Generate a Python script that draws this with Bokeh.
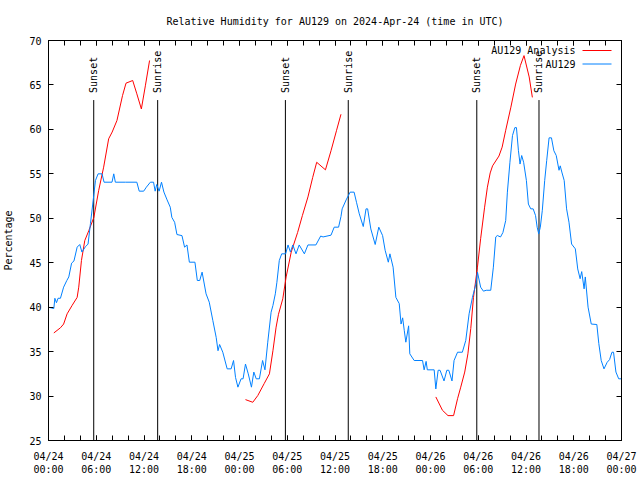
import math
import pandas as pd
from bokeh.plotting import figure
from bokeh.models import Range1d, FixedTicker, LinearAxis, Label, Arrow
from bokeh.core.properties import value
from bokeh.embed import file_html
from bokeh.resources import INLINE

# ---------------- data ----------------
start_time = "2024-04-24 00:00"

# AU129 observations: hours since start, relative humidity (%)
obs_hours = [0.0, 0.4, 0.67, 0.8, 1.0, 1.2, 1.5, 1.9, 2.3, 2.55, 2.9, 3.2, 3.6, 3.93, 4.2, 4.64, 4.97,
             5.27, 5.56, 5.9, 6.23, 6.73, 6.98, 7.98, 8.2, 8.4, 9.66, 11.1, 11.4, 11.96, 12.3, 12.8,
             13.2, 13.4, 13.6, 13.9, 14.2, 14.5, 14.9, 15.3, 15.5, 15.85, 16.14, 16.77, 17.1, 17.4,
             17.7, 18.4, 18.7, 19.0, 19.3, 19.8, 20.2, 20.65, 21.07, 21.3, 21.5, 21.9, 22.45, 22.95,
             23.25, 23.5, 23.8, 24.2, 24.45, 24.75, 25.1, 25.5, 25.8, 26.1, 26.5, 26.9, 27.2, 27.55,
             27.97, 28.2, 28.5, 28.7, 29.0, 29.3, 29.8, 30.1, 30.4, 30.7, 31.1, 31.5, 32.15, 32.6,
             33.6, 34.2, 34.5, 35.5, 35.9, 36.45, 36.75, 36.9, 37.4, 37.9, 38.4, 38.7, 39.05, 39.55,
             39.9, 40.1, 40.5, 41.05, 41.5, 41.98, 42.3, 42.7, 42.9, 43.3, 43.65, 44.07, 44.3, 44.5,
             44.7, 44.9, 45.25, 45.4, 45.95, 47.0, 47.2, 47.45, 47.6, 48.46, 48.67, 48.96, 49.2,
             49.7, 50.05, 50.3, 50.7, 50.96, 51.4, 52.0, 52.43, 52.85, 53.27, 53.7, 53.9, 54.3,
             54.65, 55.0, 55.57, 55.9, 56.2, 56.4, 56.8, 57.1, 57.45, 57.66, 57.98, 58.3, 58.6,
             58.8, 59.05, 59.25, 59.46, 59.7, 60.05, 60.3, 60.6, 60.9, 61.2, 61.4, 61.6, 61.8,
             62.05, 62.35, 62.6, 62.9, 63.2, 63.5, 63.8, 64.15, 64.3, 64.5, 64.8, 65.1, 65.4,
             65.73, 66.2, 66.5, 66.8, 67.0, 67.3, 67.45, 67.8, 68.2, 68.9, 69.15, 69.45, 69.8,
             70.2, 70.5, 70.8, 71.0, 71.3, 71.65, 72.0]
obs_rh = [40.0, 39.9, 39.85, 41.0, 40.5, 41.0, 41.0, 42.25, 43.0, 43.4, 44.95, 45.2, 46.75, 47.05, 46.2,
          46.8, 47.1, 49.4, 51.6, 54.25, 55.0, 55.0, 54.06, 54.06, 55.0, 54.06, 54.06, 54.06, 53.05,
          53.05, 53.5, 54.06, 54.06, 53.05, 53.8, 53.05, 54.06, 52.95, 52.07, 51.25, 50.1, 49.55,
          48.17, 48.05, 46.75, 47.0, 45.06, 45.06, 43.0, 43.0, 43.94, 41.5, 40.56, 38.5, 36.6, 35.1,
          35.8, 34.93, 33.06, 33.06, 34.0, 32.1, 31.0, 31.94, 31.94, 33.6, 32.5, 31.0, 32.7, 31.94,
          31.94, 34.0, 32.95, 36.06, 39.43, 40.19, 41.5, 42.8, 45.25, 46.0, 46.0, 47.0, 46.2, 47.0,
          46.0, 47.0, 46.0, 47.0, 47.0, 48.0, 47.9, 48.1, 49.0, 49.0, 50.2, 51.06, 52.07, 52.94,
          52.94, 51.8, 50.5, 49.07, 51.06, 51.06, 48.8, 47.05, 49.0, 48.06, 46.4, 45.06, 46.0, 44.5,
          41.1, 40.4, 38.1, 38.8, 37.4, 36.06, 37.9, 34.75, 34.0, 34.0, 32.95, 33.9, 32.95, 32.95,
          30.8, 32.9, 32.9, 31.7, 32.9, 32.9, 31.7, 34.0, 34.93, 34.93, 36.25, 39.25, 41.1, 42.6,
          43.94, 42.25, 41.8, 41.9, 41.9, 44.5, 47.9, 48.06, 47.9, 48.4, 49.75, 52.94, 56.3, 59.3,
          60.2, 60.2, 57.6, 56.1, 57.06, 56.3, 54.25, 51.6, 51.06, 51.06, 50.3, 49.0, 48.25, 49.0,
          50.9, 54.25, 56.5, 59.05, 59.05, 57.6, 57.06, 55.4, 55.9, 55.2, 54.25, 51.06, 49.56,
          47.1, 46.56, 44.3, 43.2, 44.0, 42.06, 43.4, 40.0, 38.1, 38.05, 35.9, 34.0, 33.06, 33.8,
          34.1, 34.93, 34.93, 32.7, 31.94, 31.94]

# AU129 Analysis: hours since start, relative humidity (%); NaN separates the three runs
nan = float("nan")
ana_hours = [0.67, 1.5, 1.9, 2.34, 2.97, 3.6, 3.8, 4.14, 4.56, 5.06, 5.7, 6.3, 6.93, 7.56, 8.0, 8.6,
             9.3, 9.74, 10.58, 11.1, 11.67, 12.17, 12.7, nan,
             24.75, 25.67, 26.3, 27.1, 27.76, 28.2, 28.6, 28.9, 29.44, 29.86, 30.5, 31.3, 31.9,
             32.6, 33.2, 33.7, 34.8, 35.5, 36.2, 36.75, nan,
             48.67, 49.5, 50.2, 50.9, 51.4, 51.8, 52.3, 52.7, 53.06, 53.4, 53.9, 54.3, 54.8,
             55.15, 55.5, 55.8, 56.6, 57.0, 57.45, 58.1, 58.7, 59.3, 59.75, 60.4, 60.8]
ana_rh = [37.1, 37.68, 38.1, 39.25, 40.2, 41.1, 42.25, 45.25, 47.5, 48.6, 50.1, 53.1, 55.75, 58.94,
          59.7, 61.0, 63.8, 65.2, 65.5, 64.0, 62.3, 64.9, 67.75, nan,
          29.6, 29.3, 30.06, 31.4, 32.5, 35.1, 37.75, 39.2, 40.94, 43.4, 46.2, 48.4, 50.3, 52.4,
          54.6, 56.3, 55.45, 57.6, 59.9, 61.7, nan,
          29.9, 28.4, 27.8, 27.8, 29.7, 31.0, 32.7, 34.75, 37.6, 41.1, 44.5, 47.7, 51.25, 53.5,
          55.1, 55.9, 57.0, 58.0, 59.9, 62.5, 65.1, 67.2, 68.3, 65.9, 63.6]

sunset_times = ["2024-04-24 05:41", "2024-04-25 05:46", "2024-04-26 05:49"]
sunrise_times = ["2024-04-24 13:43", "2024-04-25 13:40", "2024-04-26 13:38"]

x_tick_hours = [0, 6, 12, 18, 24, 30, 36, 42, 48, 54, 60, 66, 72]
x_tick_labels = ["04/24\n00:00", "04/24\n06:00", "04/24\n12:00", "04/24\n18:00",
                 "04/25\n00:00", "04/25\n06:00", "04/25\n12:00", "04/25\n18:00",
                 "04/26\n00:00", "04/26\n06:00", "04/26\n12:00", "04/26\n18:00",
                 "04/27\n00:00"]
x_minor_hours = list(range(0, 73, 2))
y_ticks = [25, 30, 35, 40, 45, 50, 55, 60, 65, 70]

title_text = "Relative Humidity for AU129 on 2024-Apr-24 (time in UTC)"
y_label = "Percentage"
series_names = ["AU129 Analysis", "AU129"]
series_colors = ["#ff0000", "#0080ff"]

# ---------------- helpers ----------------
FONT = "DejaVu Sans Mono"
FS = "10px"
HOUR_MS = 3600 * 1000
start_ms = int(pd.Timestamp(start_time).value // 10**6)


def hours_to_ms(h):
    return [start_ms + v * HOUR_MS if not math.isnan(v) else nan for v in h]


def times_to_ms(ts):
    return [int(pd.Timestamp(t).value // 10**6) for t in ts]


obs_x = hours_to_ms(obs_hours)
ana_x = hours_to_ms(ana_hours)
sunset_x = times_to_ms(sunset_times)
sunrise_x = times_to_ms(sunrise_times)
tick_ms = [start_ms + h * HOUR_MS for h in x_tick_hours]
minor_ms = [start_ms + h * HOUR_MS for h in x_minor_hours]

y_lo, y_hi = y_ticks[0], y_ticks[-1]
sun_line_top = 63.3
sun_label_y = 64.1

p = figure(width=640, height=480, x_axis_type="datetime",
           x_range=Range1d(start_ms, tick_ms[-1]), y_range=Range1d(y_lo, y_hi),
           output_backend="svg", toolbar_location=None,
           min_border_left=47, min_border_right=19, min_border_top=40, min_border_bottom=40)
p.background_fill_color = "white"
p.border_fill_color = "white"
p.outline_line_color = "black"
p.xgrid.visible = False
p.ygrid.visible = False

p.title.text = title_text
p.title.text_font = FONT
p.title.text_font_size = FS
p.title.text_font_style = "normal"
p.title.text_color = "black"
p.title.align = "center"
p.title.standoff = 27


def style_axis(ax, labels=True):
    ax.axis_line_color = "black"
    ax.major_tick_line_color = "black"
    ax.minor_tick_line_color = "black"
    ax.major_tick_in = 5
    ax.major_tick_out = 0
    ax.minor_tick_in = 5
    ax.minor_tick_out = 0
    ax.major_label_text_font = FONT
    ax.major_label_text_color = "black"
    if labels:
        ax.major_label_text_font_size = FS
    else:
        ax.major_label_text_font_size = "1px"
        ax.major_label_text_color = None
        ax.major_label_standoff = 0


xax = p.xaxis[0]
xax.ticker = FixedTicker(ticks=tick_ms, minor_ticks=minor_ms)
xax.major_label_overrides = {int(t): lab for t, lab in zip(tick_ms, x_tick_labels)}
style_axis(xax)
xax.major_label_standoff = 10

yax = p.yaxis[0]
yax.ticker = FixedTicker(ticks=y_ticks)
style_axis(yax)
yax.major_label_standoff = 7
yax.axis_label = y_label
yax.axis_label_text_font = FONT
yax.axis_label_text_font_size = FS
yax.axis_label_text_font_style = "normal"
yax.axis_label_text_color = "black"
yax.axis_label_standoff = 12

top = LinearAxis(ticker=FixedTicker(ticks=tick_ms, minor_ticks=minor_ms))
style_axis(top, labels=False)
p.add_layout(top, "above")
right = LinearAxis(ticker=FixedTicker(ticks=y_ticks))
style_axis(right, labels=False)
p.add_layout(right, "right")

# sunset / sunrise markers
sun_x = sunset_x + sunrise_x
sun_txt = ["Sunset"] * len(sunset_x) + ["Sunrise"] * len(sunrise_x)
p.segment(x0=sun_x, x1=sun_x, y0=[y_lo] * len(sun_x), y1=[sun_line_top] * len(sun_x),
          line_color="black", line_width=1)
p.text(x=sun_x, y=[sun_label_y] * len(sun_x), text=sun_txt, angle=math.pi / 2,
       text_align="left", text_baseline="middle", text_font=value(FONT),
       text_font_size=FS, text_color="black")

# series
p.line(ana_x, ana_rh, line_color=series_colors[0], line_width=1)
p.line(obs_x, obs_rh, line_color=series_colors[1], line_width=1)

# key (text then sample line, top right)
for i, (name, col) in enumerate(zip(series_names, series_colors)):
    sy = 390.0 - i * 13.5
    p.add_layout(Label(x=527, y=sy, x_units="screen", y_units="screen", text=name,
                       text_align="right", text_baseline="middle",
                       text_font=FONT, text_font_size=FS, text_color="black"))
    p.add_layout(Arrow(x_start=534, y_start=sy, x_end=563, y_end=sy,
                       start_units="screen", end_units="screen", start=None, end=None,
                       line_color=col, line_width=1))

open("out.html", "w").write(file_html(p, INLINE))
